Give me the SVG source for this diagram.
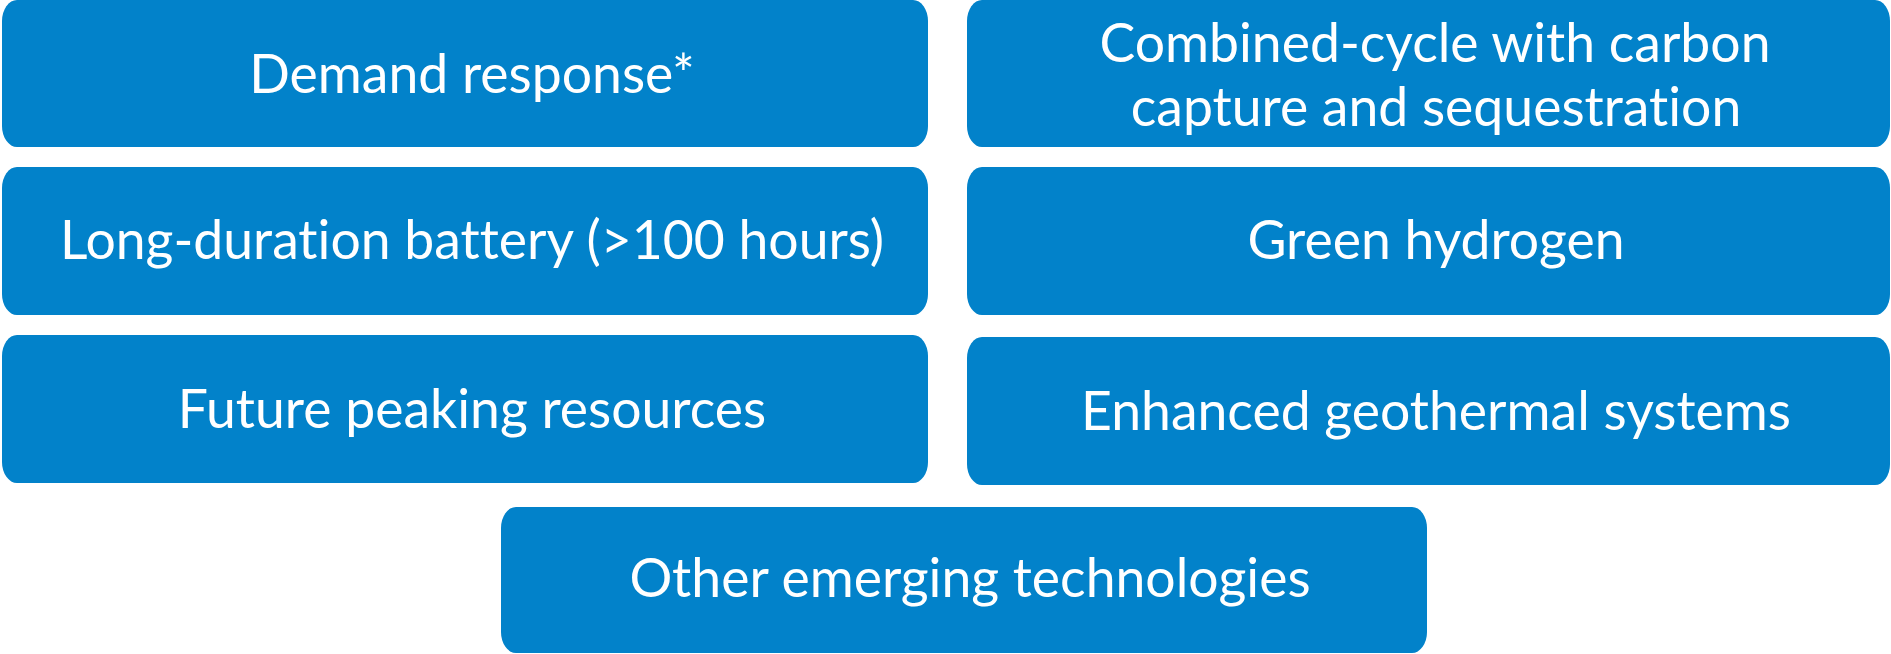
<svg xmlns="http://www.w3.org/2000/svg" width="1891" height="654" viewBox="0 0 1891 654">
  <style>
    .box { fill: #0282CA; }
    .label { fill: #FFFFFF; font-family: Lato, "Open Sans", "Liberation Sans", sans-serif; font-size: 53.5px; text-anchor: middle; font-variant-ligatures: none; font-feature-settings: "liga" 0; }
  </style>
  <rect width="1891" height="654" fill="#FFFFFF"/>
  <g id="demand-response">
    <rect class="box" x="2" y="0" width="926" height="147" rx="15" ry="21"/>
    <text class="label" x="472" y="93">Demand response*</text>
  </g>
  <g id="combined-cycle-ccs">
    <rect class="box" x="967" y="0" width="923" height="147" rx="15" ry="21"/>
    <text class="label" x="1435" y="62">Combined-cycle with carbon</text>
    <text class="label" x="1436" y="126">capture and sequestration</text>
  </g>
  <g id="long-duration-battery">
    <rect class="box" x="2" y="167" width="926" height="148" rx="15" ry="21"/>
    <text class="label" x="472" y="259">Long-duration battery (&gt;100 hours)</text>
  </g>
  <g id="green-hydrogen">
    <rect class="box" x="967" y="167" width="923" height="148" rx="15" ry="21"/>
    <text class="label" x="1436" y="259">Green hydrogen</text>
  </g>
  <g id="future-peaking">
    <rect class="box" x="2" y="335" width="926" height="148" rx="15" ry="21"/>
    <text class="label" x="472" y="428">Future peaking resources</text>
  </g>
  <g id="enhanced-geothermal">
    <rect class="box" x="967" y="337" width="923" height="148" rx="15" ry="21"/>
    <text class="label" x="1436" y="430">Enhanced geothermal systems</text>
  </g>
  <g id="other-emerging">
    <rect class="box" x="501" y="507" width="926" height="146" rx="15" ry="21"/>
    <text class="label" x="970" y="597">Other emerging technologies</text>
  </g>
  <g id="connectors"/>
</svg>
